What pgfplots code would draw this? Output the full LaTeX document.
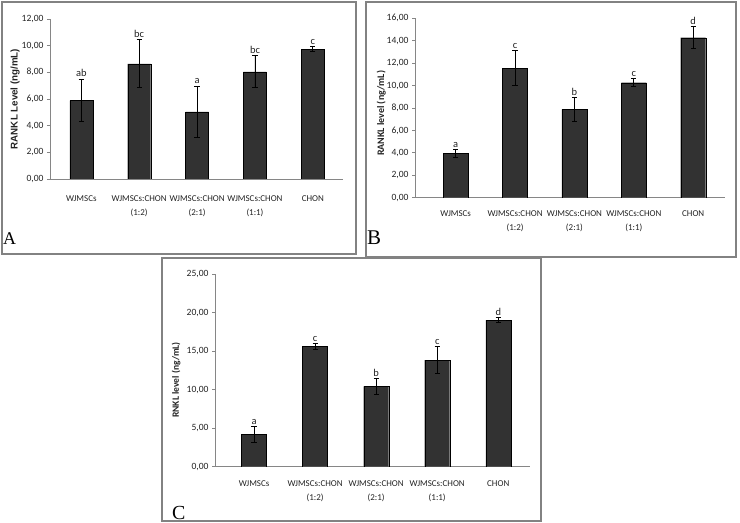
\documentclass[border=0pt]{standalone}
\usepackage{pgfplots}
\pgfplotsset{compat=1.18}
\usepackage{fontspec}
\setmainfont{Carlito}
\newfontfamily\lettfont{Liberation Serif}
\newfontfamily\arialf{Liberation Sans}
\definecolor{barc}{RGB}{50,50,50}
\definecolor{framec}{RGB}{130,130,130}
\definecolor{axc}{RGB}{134,134,134}
\definecolor{txt}{RGB}{35,35,35}
\pgfplotsset{
 panel/.style={
  scale only axis,
  anchor=south west,
  ymin=0,
  axis x line=bottom, axis y line=left,
  axis line style={draw=axc, line width=0.8bp, -},
  xtick={0,1,2,3,4},
  xticklabels={WJMSCs, {WJMSCs:CHON\\[3.5pt](1:2)}, {WJMSCs:CHON\\[3.5pt](2:1)}, {WJMSCs:CHON\\[3.5pt](1:1)}, CHON},
  xticklabel style={align=center, font=\fontsize{9}{11}\selectfont, text=txt, anchor=north},
  x tick style={draw=none},
  y tick style={draw=axc, line width=0.8bp},
  tick align=outside,
  major tick length=3bp,
  yticklabel style={font=\fontsize{9.6}{11}\selectfont, text=txt},
  /pgf/number format/fixed,
  /pgf/number format/fixed zerofill,
  /pgf/number format/precision=2,
  /pgf/number format/use comma,
  /pgf/number format/assume math mode=true,
 },
 bars/.style={ybar, bar width=#1, fill=barc, draw=black, line width=0.3bp,
  error bars/y dir=both, error bars/y explicit,
  error bars/error bar style={black, line width=0.9bp},
  error bars/error mark options={rotate=90, mark size=2.6bp, line width=0.9bp, black}},
 letters/.style={draw=none, nodes near coords, point meta=explicit symbolic,
  nodes near coords style={anchor=south, font=\fontsize{10.5}{12}\selectfont, text=txt, inner sep=#1}},
}
\begin{document}
\begin{tikzpicture}
% frames
\draw[framec, line width=1.2bp] (2bp,269bp) rectangle (356bp,521bp);
\draw[framec, line width=1.2bp] (366bp,266bp) rectangle (736bp,521bp);
\draw[framec, line width=1.2bp] (162bp,2bp) rectangle (541bp,265bp);
% Panel A
\begin{scope}[shift={(50bp,344bp)}]
\begin{axis}[panel, at={(0,0)}, width=293bp, height=160bp,
  xmin=-0.54, xmax=4.52, ymax=12, ytick={0,2,...,12},
  xticklabel style={yshift=-10bp},
  ylabel={\arialf\bfseries RANKL Level (ng/mL)},
  every axis y label/.style={at={(axis description cs:-0.119,0.5)}, rotate=90, anchor=center, font=\fontsize{9.8}{11}\selectfont, text=txt}]
\addplot[bars=23bp] coordinates {(0,5.88) +- (0,1.6) (1,8.63) +- (0,1.8) (2,5.04) +- (0,1.9) (3,8.03) +- (0,1.2) (4,9.73) +- (0,0.2)};
\addplot[letters=2.2bp] coordinates {(0,7.48)[ab] (1,10.43)[bc] (2,6.94)[a] (3,9.23)[bc] (4,9.93)[c]};
\end{axis}
\end{scope}
% Panel B
\begin{scope}[shift={(415bp,325.3bp)}]
\begin{axis}[panel, at={(0,0)}, width=310bp, height=179.4bp,
  xmin=-0.685, xmax=4.535, ymax=16, ytick={0,2,...,16},
  xticklabel style={yshift=-6bp},
  ylabel={\bfseries RANKL level (ng/mL)},
  every axis y label/.style={at={(axis description cs:-0.109,0.47)}, rotate=90, anchor=center, font=\fontsize{10}{11}\selectfont, text=txt}]
\addplot[bars=25bp] coordinates {(0,3.96) +- (0,0.38) (1,11.54) +- (0,1.57) (2,7.88) +- (0,1.07) (3,10.26) +- (0,0.36) (4,14.27) +- (0,0.98)};
\addplot[letters=1.5bp] coordinates {(0,4.34)[a] (1,13.11)[c] (2,8.95)[b] (3,10.62)[c] (4,15.25)[d]};
\end{axis}
\end{scope}
% Panel C
\begin{scope}[shift={(215bp,56.3bp)}]
\begin{axis}[panel, at={(0,0)}, width=315bp, height=192.7bp,
  xmin=-0.64, xmax=4.52, ymax=25, ytick={0,5,...,25},
  xticklabel style={yshift=-7bp},
  ylabel={\bfseries RNKL level (ng/mL)},
  every axis y label/.style={at={(axis description cs:-0.123,0.45)}, rotate=90, anchor=center, font=\fontsize{9.6}{11}\selectfont, text=txt}]
\addplot[bars=25bp] coordinates {(0,4.20) +- (0,1.07) (1,15.61) +- (0,0.4) (2,10.42) +- (0,1.0) (3,13.84) +- (0,1.8) (4,19.03) +- (0,0.3)};
\addplot[letters=1.5bp] coordinates {(0,5.27)[a] (1,16.01)[c] (2,11.42)[b] (3,15.64)[c] (4,19.33)[d]};
\end{axis}
\end{scope}
% panel letters
\node[anchor=base west, inner sep=0pt, font=\lettfont\fontsize{18}{20}\selectfont] at (3bp,278bp) {A};
\node[anchor=base west, inner sep=0pt, font=\lettfont\fontsize{21}{24}\selectfont] at (367bp,278bp) {B};
\node[anchor=base west, inner sep=0pt, font=\lettfont\fontsize{20}{23}\selectfont] at (172bp,4bp) {C};
\pgfresetboundingbox
\useasboundingbox (0bp,0bp) rectangle (740bp,523bp);
\end{tikzpicture}
\end{document}
